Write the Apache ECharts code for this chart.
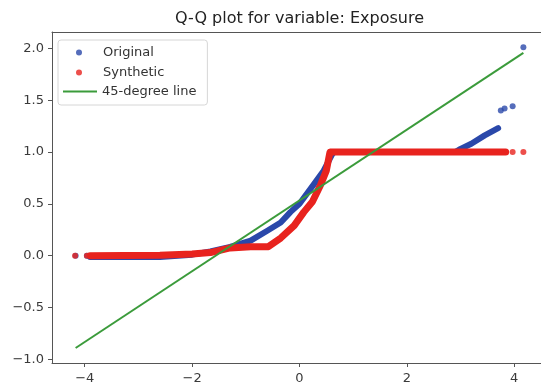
<!DOCTYPE html>
<html>
<head>
<meta charset="utf-8">
<script src="https://cdn.jsdelivr.net/npm/echarts@6/dist/echarts.min.js"></script>
<style>
  html, body { margin: 0; padding: 0; background: #fff; }
  #chart { width: 541px; height: 387px; }
</style>
</head>
<body>
<div id="chart"></div>
<script>
// values (theoretical quantile, sample quantile)
const originalBand = [
  [-3.9, -0.012], [-2.6, -0.012], [-2.0, 0.01], [-1.66, 0.04], [-1.29, 0.085],
  [-0.91, 0.145], [-0.6, 0.24], [-0.35, 0.32], [-0.17, 0.42], [0.0, 0.5],
  [0.27, 0.69], [0.45, 0.82], [0.6, 0.97], [0.64, 1.0], [2.9, 1.0],
  [3.0, 1.03], [3.2, 1.08], [3.45, 1.16], [3.7, 1.23]
];
const originalDots = [[-4.17, 0], [-3.96, 0], [3.75, 1.40], [3.82, 1.42], [3.97, 1.44], [4.17, 2.01]];

const syntheticBand = [
  [-3.9, 0.0], [-2.6, 0.005], [-2.0, 0.016], [-1.66, 0.03], [-1.29, 0.075],
  [-0.91, 0.087], [-0.58, 0.087], [-0.35, 0.17], [-0.1, 0.29], [0.08, 0.42],
  [0.24, 0.52], [0.39, 0.68], [0.5, 0.82], [0.56, 0.98], [0.57, 1.0], [3.84, 1.0]
];
const syntheticDots = [[-4.18, 0], [-3.96, 0], [3.97, 1.0], [4.17, 1.0]];

const refLine = [[-4.17, -0.89], [4.17, 1.955]];

const xTicks = [-4, -2, 0, 2, 4];
const yTicks = [-1, -0.5, 0, 0.5, 1, 1.5, 2];

const blue = '#2a48aa';
const red = '#e8231e';
const green = '#3b9b3b';
const font = 'DejaVu Sans';

function fmt(v, d) {
  const s = Math.abs(v).toFixed(d);
  return v < 0 ? '\u2212' + s : s;
}

const chart = echarts.init(document.getElementById('chart'));
chart.setOption({
  animation: false,
  title: {
    text: 'Q-Q plot for variable: Exposure',
    left: 175,
    top: 11,
    padding: 0,
    textStyle: { fontFamily: font, fontSize: 16, fontWeight: 'normal', color: '#222' }
  },
  legend: [
    {
      orient: 'vertical',
      left: 58,
      top: 40,
      padding: [6, 43, 26, 18],
      itemWidth: 6,
      itemHeight: 6,
      itemGap: 7,
      backgroundColor: '#fff',
      borderColor: '#d6d6d6',
      borderWidth: 1,
      borderRadius: 3,
      textStyle: { fontFamily: font, fontSize: 13, color: '#333', padding: [0, 0, 0, 16] },
      data: [
        { name: 'Original', icon: 'circle' },
        { name: 'Synthetic', icon: 'circle' }
      ]
    },
    {
      orient: 'vertical',
      left: 63,
      top: 85,
      padding: 0,
      itemWidth: 34,
      itemHeight: 2,
      textStyle: { fontFamily: font, fontSize: 13, color: '#333' },
      data: [{ name: '45-degree line', icon: 'rect' }]
    }
  ],
  grid: {
    left: 52,
    top: 32,
    right: -6,
    bottom: 24,
    outerBoundsMode: 'none',
    containLabel: false
  },
  xAxis: [
    {
      type: 'value',
      min: -4.61,
      max: 4.61,
      splitLine: { show: false },
      axisLine: { onZero: false, lineStyle: { color: '#555', width: 1 } },
      axisTick: { length: 4, lineStyle: { color: '#555' }, customValues: xTicks },
      axisLabel: {
        margin: 9,
        fontFamily: font, fontSize: 13, color: '#3a3a3a',
        customValues: xTicks,
        formatter: v => fmt(v, 0)
      }
    },
    {
      // top spine only
      type: 'value',
      position: 'top',
      min: -4.61,
      max: 4.61,
      splitLine: { show: false },
      axisLine: { show: true, onZero: false, lineStyle: { color: '#555', width: 1 } },
      axisTick: { show: false },
      axisLabel: { show: false }
    }
  ],
  yAxis: {
    type: 'value',
    min: -1.035,
    max: 2.157,
    splitLine: { show: false },
    axisLine: { show: true, onZero: false, lineStyle: { color: '#555', width: 1 } },
    axisTick: { show: true, length: 4, lineStyle: { color: '#555' }, customValues: yTicks },
    axisLabel: {
      margin: 8,
      fontFamily: font, fontSize: 13, color: '#3a3a3a',
      customValues: yTicks,
      formatter: v => fmt(v, 1)
    }
  },
  series: [
    {
      name: 'Original band',
      type: 'line',
      data: originalBand,
      symbol: 'none',
      lineStyle: { color: blue, width: 6, cap: 'round', join: 'round' },
      silent: true
    },
    {
      name: 'Original',
      type: 'scatter',
      data: originalDots,
      symbolSize: 6,
      itemStyle: { color: blue }
    },
    {
      name: 'Synthetic band',
      type: 'line',
      data: syntheticBand,
      symbol: 'none',
      lineStyle: { color: red, width: 7, cap: 'round', join: 'round' },
      silent: true
    },
    {
      name: 'Synthetic',
      type: 'scatter',
      data: syntheticDots,
      symbolSize: 6,
      itemStyle: { color: red }
    },
    {
      name: '45-degree line',
      type: 'line',
      data: refLine,
      symbol: 'none',
      itemStyle: { color: green },
      lineStyle: { color: green, width: 2 }
    }
  ]
});
</script>
</body>
</html>
